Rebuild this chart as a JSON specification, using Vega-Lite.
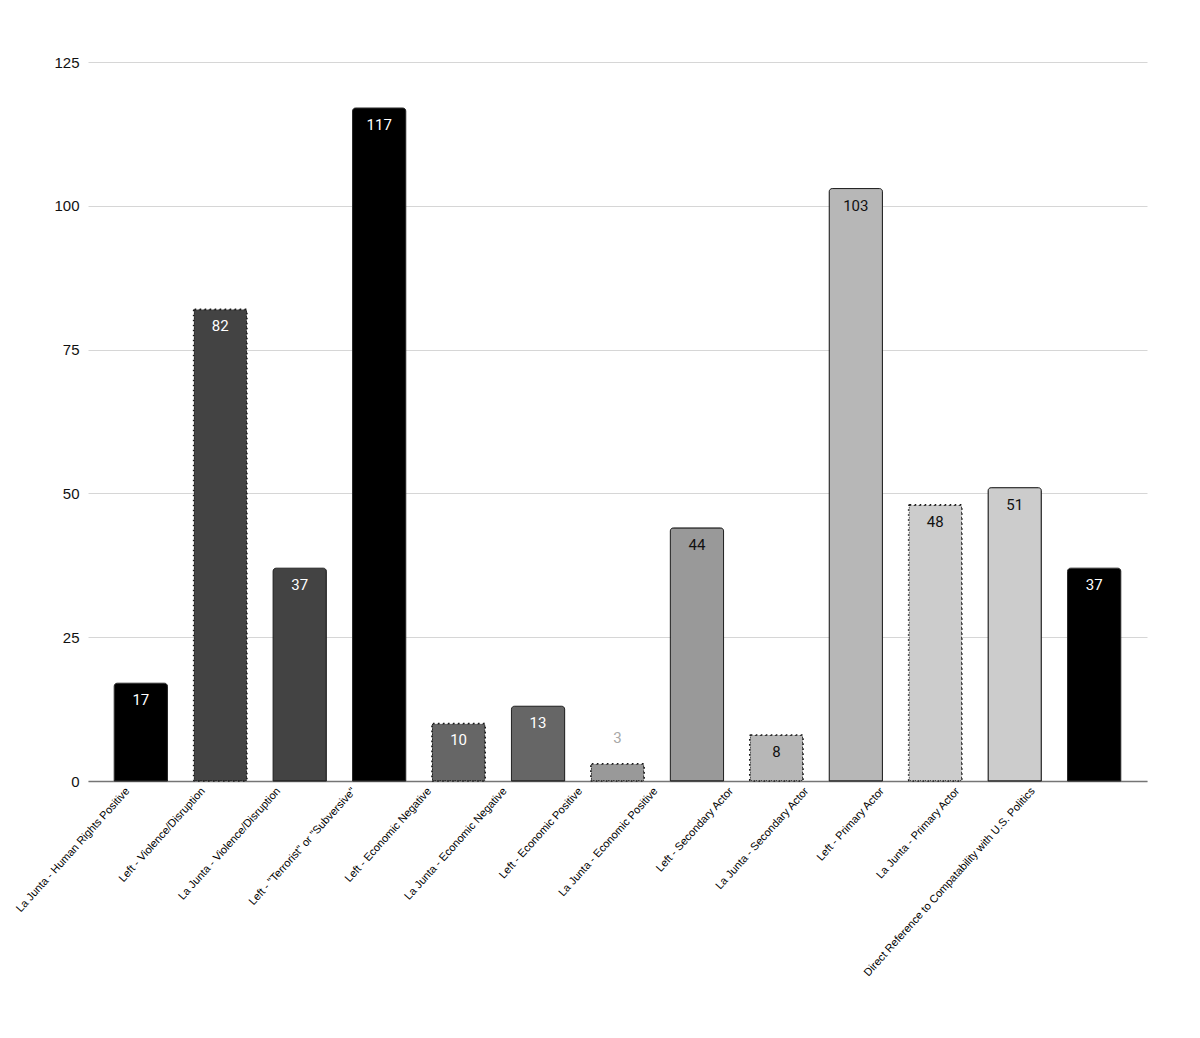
{
  "$schema": "https://vega.github.io/schema/vega-lite/v6.json",
  "autosize": "none",
  "width": 1059,
  "height": 719,
  "padding": {"left": 88, "top": 62, "right": 53, "bottom": 257},
  "background": "white",
  "config": {"view": {"stroke": null}},
  "data": {
    "values": [
      {"category": "La Junta - Human Rights Positive", "side": "La Junta", "count": 17},
      {"category": "Left - Violence/Disruption", "side": "Left", "count": 82},
      {"category": "La Junta - Violence/Disruption", "side": "La Junta", "count": 37},
      {"category": "Left - \"Terrorist\" or \"Subversive\"", "side": "Left", "count": 117},
      {"category": "Left - Economic Negative", "side": "Left", "count": 10},
      {"category": "La Junta - Economic Negative", "side": "La Junta", "count": 13},
      {"category": "Left - Economic Positive", "side": "Left", "count": 3},
      {"category": "La Junta - Economic Positive", "side": "La Junta", "count": 44},
      {"category": "Left - Secondary Actor", "side": "Left", "count": 8},
      {"category": "La Junta - Secondary Actor", "side": "La Junta", "count": 103},
      {"category": "Left - Primary Actor", "side": "Left", "count": 48},
      {"category": "La Junta - Primary Actor", "side": "La Junta", "count": 51},
      {"category": "Direct Reference to Compatability with U.S. Politics", "side": "Other", "count": 37}
    ]
  },
  "encoding": {
    "x": {
      "field": "category",
      "type": "nominal",
      "sort": [
        "La Junta - Human Rights Positive",
        "Left - Violence/Disruption",
        "La Junta - Violence/Disruption",
        "Left - \"Terrorist\" or \"Subversive\"",
        "Left - Economic Negative",
        "La Junta - Economic Negative",
        "Left - Economic Positive",
        "La Junta - Economic Positive",
        "Left - Secondary Actor",
        "La Junta - Secondary Actor",
        "Left - Primary Actor",
        "La Junta - Primary Actor",
        "Direct Reference to Compatability with U.S. Politics"
      ],
      "scale": {"paddingInner": 0.33, "paddingOuter": 0.33},
      "axis": {
        "title": null,
        "labelAngle": -48,
        "labelFont": "Liberation Sans",
        "labelFontSize": 11,
        "labelColor": "#000000",
        "labelPadding": 8,
        "labelLimit": 400,
        "labelOffset": {"expr": "-13 - 48 * datum.index"},
        "ticks": false,
        "domainColor": "#757575",
        "domainWidth": 1.5
      }
    },
    "y": {
      "field": "count",
      "type": "quantitative",
      "scale": {"domain": [0, 125]},
      "axis": {
        "title": null,
        "values": [0, 25, 50, 75, 100, 125],
        "labelFont": "Liberation Sans",
        "labelFontSize": 15,
        "labelColor": "#111111",
        "labelPadding": 9,
        "ticks": false,
        "domain": false,
        "gridColor": "#d6d6d6",
        "gridWidth": 1
      }
    },
    "color": {
      "field": "category",
      "type": "nominal",
      "legend": null,
      "scale": {
        "domain": [
          "La Junta - Human Rights Positive",
          "Left - Violence/Disruption",
          "La Junta - Violence/Disruption",
          "Left - \"Terrorist\" or \"Subversive\"",
          "Left - Economic Negative",
          "La Junta - Economic Negative",
          "Left - Economic Positive",
          "La Junta - Economic Positive",
          "Left - Secondary Actor",
          "La Junta - Secondary Actor",
          "Left - Primary Actor",
          "La Junta - Primary Actor",
          "Direct Reference to Compatability with U.S. Politics"
        ],
        "range": ["#000000", "#434343", "#434343", "#000000", "#666666", "#666666", "#999999", "#999999", "#b7b7b7", "#b7b7b7", "#cccccc", "#cccccc", "#000000"]
      }
    }
  },
  "layer": [
    {
      "transform": [{"filter": "datum.side != 'Left' || datum.count > 100"}],
      "mark": {
        "type": "bar",
        "stroke": "#222222",
        "strokeWidth": 1,
        "cornerRadiusTopLeft": 3,
        "cornerRadiusTopRight": 3
      }
    },
    {
      "transform": [{"filter": "datum.side == 'Left' && datum.count < 100"}],
      "mark": {
        "type": "bar",
        "stroke": "#1a1a1a",
        "strokeWidth": 1.6,
        "strokeDash": [1.6, 3.4],
        "cornerRadius": 1
      }
    },
    {
      "transform": [{"filter": "datum.count >= 5"}],
      "mark": {"type": "text", "font": "Roboto", "fontSize": 15, "baseline": "middle", "dy": 17},
      "encoding": {
        "text": {"field": "count", "type": "quantitative"},
        "color": {
          "field": "category",
          "type": "nominal",
          "legend": null,
          "scale": {
            "domain": [
              "La Junta - Human Rights Positive",
              "Left - Violence/Disruption",
              "La Junta - Violence/Disruption",
              "Left - \"Terrorist\" or \"Subversive\"",
              "Left - Economic Negative",
              "La Junta - Economic Negative",
              "La Junta - Economic Positive",
              "Left - Secondary Actor",
              "La Junta - Secondary Actor",
              "Left - Primary Actor",
              "La Junta - Primary Actor",
              "Direct Reference to Compatability with U.S. Politics"
            ],
            "range": ["#ffffff", "#ffffff", "#ffffff", "#ffffff", "#ffffff", "#ffffff", "#111111", "#111111", "#111111", "#111111", "#111111", "#ffffff"]
          }
        }
      }
    },
    {
      "transform": [{"filter": "datum.count < 5"}],
      "mark": {"type": "text", "font": "Roboto", "fontSize": 15, "baseline": "middle", "dy": -26},
      "encoding": {
        "text": {"field": "count", "type": "quantitative"},
        "color": {"value": "#a8a8a8"}
      }
    }
  ],
  "resolve": {"scale": {"color": "independent"}}
}
